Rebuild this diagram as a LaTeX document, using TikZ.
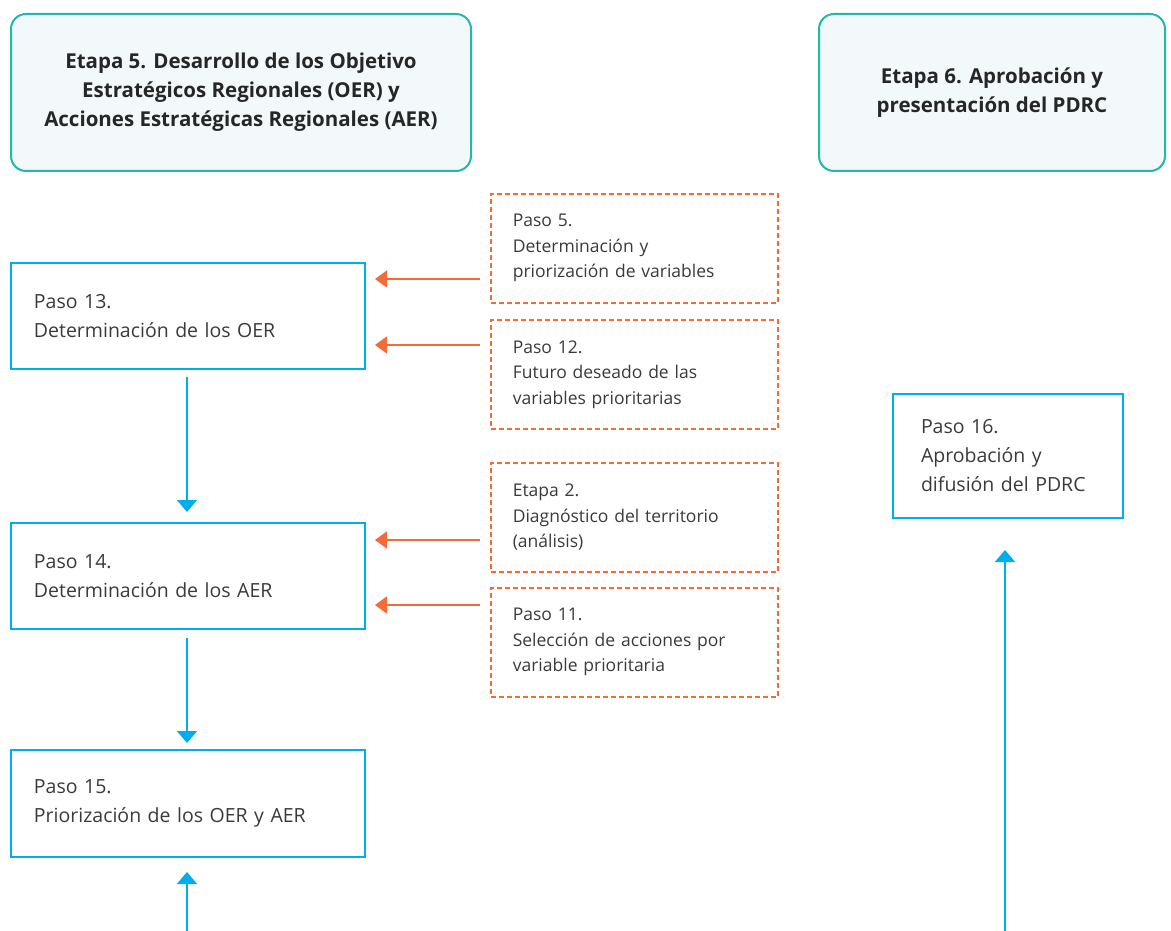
\documentclass[tikz,border=0pt]{standalone}
\usepackage{fontspec}
\setmainfont{Open Sans}
\usetikzlibrary{arrows.meta}

\definecolor{etapaline}{HTML}{22B8AA}
\definecolor{etapafill}{HTML}{F3F9FA}
\definecolor{pasoblue}{HTML}{00AEEF}
\definecolor{reforange}{HTML}{F26B38}
\definecolor{textgray}{HTML}{3A3A3A}

\begin{document}
\begin{tikzpicture}[x=1pt,y=-1pt,
  etapa/.style={draw=etapaline,fill=etapafill,line width=2pt,rounded corners=15pt,
    anchor=north west,align=center,font=\fontsize{20.5}{29}\selectfont\bfseries,text=black!85},
  paso/.style={draw=pasoblue,line width=2pt,anchor=north west,align=left,
    inner xsep=23pt,font=\fontsize{19.5}{29}\selectfont,text=textgray},
  previo/.style={draw=reforange,line width=1.6pt,dash pattern=on 5pt off 3pt,anchor=north west,
    align=left,inner xsep=22pt,text width=243pt,minimum height=109pt,
    font=\fontsize{17.5}{25.5}\selectfont,text=textgray},
  flecha/.style={draw=pasoblue,line width=2pt,-{Triangle[length=12pt,width=20pt]}},
  insumo/.style={draw=reforange,line width=2pt,-{Triangle[length=12pt,width=17pt]}}]

  \useasboundingbox (0,0) rectangle (1171,931);

  % etapas
  \node[etapa,minimum width=460pt,minimum height=157pt] (e5) at (10,13)
    {Etapa 5. Desarrollo de los Objetivo\\Estratégicos Regionales (OER) y\\Acciones Estratégicas Regionales (AER)};
  \node[etapa,minimum width=346pt,minimum height=157pt] (e6) at (818,13)
    {Etapa 6. Aprobación y\\presentación del PDRC};

  % pasos
  \node[paso,text width=308pt,minimum height=106pt] (p13) at (10,262) {Paso 13.\\Determinación de los OER};
  \node[paso,text width=308pt,minimum height=106pt] (p14) at (10,522) {Paso 14.\\Determinación de los AER};
  \node[paso,text width=308pt,minimum height=107pt] (p15) at (10,749) {Paso 15.\\Priorización de los OER y AER};
  \node[paso,inner xsep=28pt,text width=174pt,minimum height=124pt] (p16) at (892,393)
    {Paso 16.\\Aprobación y\\difusión del PDRC};

  % insumos
  \node[previo] (i5) at (490,193) {Paso 5.\\Determinación y\\priorización de variables};
  \node[previo] (i12) at (490,319) {Paso 12.\\Futuro deseado de las\\variables prioritarias};
  \node[previo] (i2) at (490,462) {Etapa 2.\\Diagnóstico del territorio\\(análisis)};
  \node[previo] (i11) at (490,587) {Paso 11.\\Selección de acciones por\\variable prioritaria};

  \coordinate (c13a) at (375,279);
  \coordinate (c13b) at (375,345);
  \coordinate (c14a) at (375,540);
  \coordinate (c14b) at (375,605);
  \coordinate (in15) at (187,931);
  \coordinate (in16) at (1005,931);

  \draw[insumo] (i5.west |- c13a) ++(-10,0) -- (c13a);
  \draw[insumo] (i12.west |- c13b) ++(-10,0) -- (c13b);
  \draw[insumo] (i2.west |- c14a) ++(-10,0) -- (c14a);
  \draw[insumo] (i11.west |- c14b) ++(-10,0) -- (c14b);

  \draw[flecha] (p13.south -| in15) ++(0,7) -- ([yshift=10pt]p14.north -| in15);
  \draw[flecha] (p14.south -| in15) ++(0,8) -- ([yshift=6pt]p15.north -| in15);
  \draw[flecha] (in15) -- ([yshift=-14pt]p15.south -| in15);
  \draw[flecha] (in16) -- ([yshift=-31pt]p16.south -| in16);

\end{tikzpicture}
\end{document}
